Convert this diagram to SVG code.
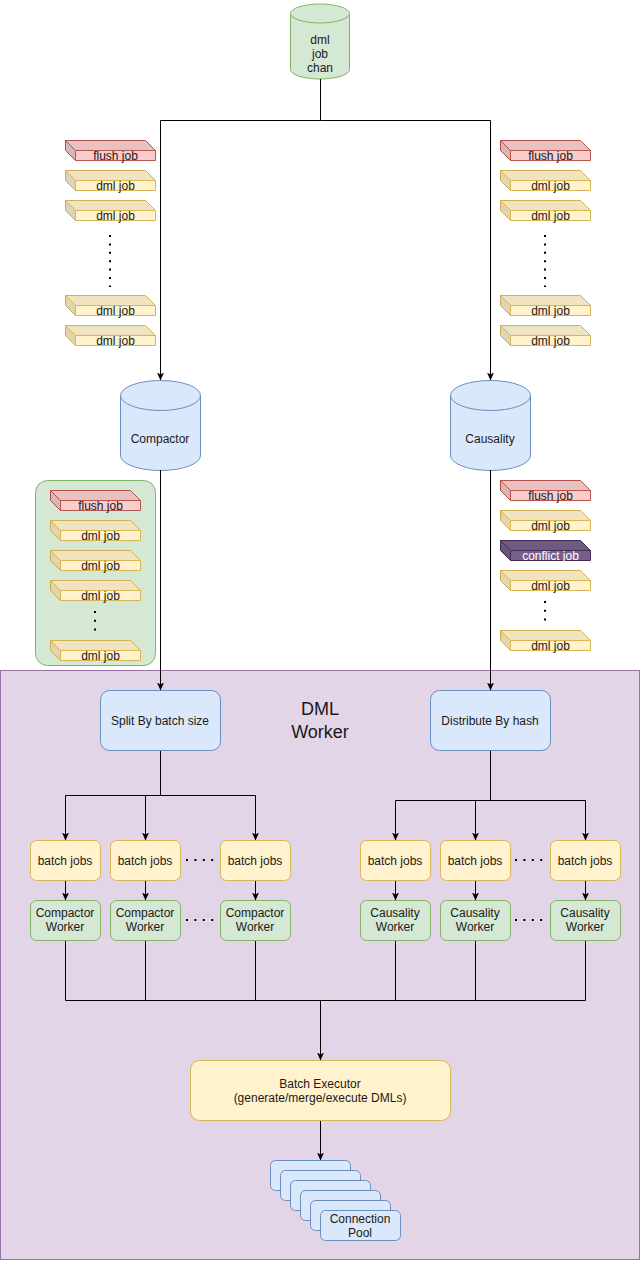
<svg xmlns="http://www.w3.org/2000/svg" xmlns:xlink="http://www.w3.org/1999/xlink" width="641" height="1261" viewBox="0 0 641 1261">
<style>
text{font-family:"Liberation Sans",Arial,sans-serif;font-size:12px;fill:#1a1a1a;text-anchor:middle}
.blue{fill:#dae8fc;stroke:#6c8ebf;stroke-width:1}
.yellow{fill:#fff2cc;stroke:#d6b656;stroke-width:1}
.green{fill:#d5e8d4;stroke:#82b366;stroke-width:1}
.red{fill:#f8cecc;stroke:#b85450;stroke-width:1}
.purple{fill:#76608a;stroke:#432d57;stroke-width:1}
.conn{fill:none;stroke:#000;stroke-width:1}
.arr{marker-end:url(#arrow)}
.dots{fill:none;stroke:#000;stroke-width:2;stroke-dasharray:2 6.4}
.wt{fill:#fff}
</style>
<defs>
<marker id="arrow" viewBox="0 0 8 8" refX="7.5" refY="4" markerWidth="8" markerHeight="8" markerUnits="userSpaceOnUse" orient="auto">
<path d="M0,0.5 L8,4 L0,7.5 L2,4 Z" fill="#000"/>
</marker>
<g id="cubeShade">
<path d="M0,0 L80,0 L90,10 L10,10 Z" fill="#000" fill-opacity="0.06"/>
<path d="M0,0 L10,10 L10,20 L0,10 Z" fill="#000" fill-opacity="0.12"/>
</g>
<path id="cubeOutline" d="M0,0 L80,0 L90,10 L90,20 L10,20 L0,10 Z"/>
<path id="cubeEdges" d="M0,0 L10,10 L90,10 M10,10 L10,20" fill="none"/>
<g id="cubeDml"><use xlink:href="#cubeOutline" class="yellow"/><use xlink:href="#cubeShade"/><use xlink:href="#cubeEdges" stroke="#d6b656"/></g>
<g id="cubeFlush"><use xlink:href="#cubeOutline" class="red"/><use xlink:href="#cubeShade"/><use xlink:href="#cubeEdges" stroke="#b85450"/></g>
<g id="cubeConflict"><use xlink:href="#cubeOutline" class="purple"/><use xlink:href="#cubeShade"/><use xlink:href="#cubeEdges" stroke="#432d57"/></g>
</defs>

<!-- DML Worker container -->
<g id="dml-worker">
<rect x="0.5" y="670.5" width="639" height="589" fill="#e1d5e7" stroke="#9673a6"/>
<text x="320" y="715" style="font-size:18px">DML</text>
<text x="320" y="738" style="font-size:18px">Worker</text>
</g>

<!-- green buffer container -->
<g id="compactor-buffer">
<rect x="35.5" y="480.5" width="120" height="185" rx="12" class="green"/>
</g>

<!-- top channel -->
<g id="dml-job-chan">
<path d="M290.5,13.5 A29.5,9.5 0 0 1 349.5,13.5 L349.5,69.5 A29.5,9.5 0 0 1 290.5,69.5 Z" class="green"/>
<path d="M290.5,13.5 A29.5,9.5 0 0 0 349.5,13.5" class="green" fill="none"/>
<text x="320" y="44">dml</text>
<text x="320" y="58">job</text>
<text x="320" y="72">chan</text>
</g>

<g id="compactor">
<path d="M120.5,395.5 A40,15 0 0 1 200.5,395.5 L200.5,455.5 A40,15 0 0 1 120.5,455.5 Z" class="blue"/>
<path d="M120.5,395.5 A40,15 0 0 0 200.5,395.5" class="blue" fill="none"/>
<text x="160" y="443">Compactor</text>
</g>

<g id="causality">
<path d="M450.5,395.5 A40,15 0 0 1 530.5,395.5 L530.5,455.5 A40,15 0 0 1 450.5,455.5 Z" class="blue"/>
<path d="M450.5,395.5 A40,15 0 0 0 530.5,395.5" class="blue" fill="none"/>
<text x="490" y="443">Causality</text>
</g>

<!-- left input jobs -->
<g id="left-jobs">
<g transform="translate(65.5,140.5)"><use xlink:href="#cubeFlush"/><text x="50" y="19">flush job</text></g>
<g transform="translate(65.5,170.5)"><use xlink:href="#cubeDml"/><text x="50" y="19">dml job</text></g>
<g transform="translate(65.5,200.5)"><use xlink:href="#cubeDml"/><text x="50" y="19">dml job</text></g>
<line x1="110" y1="235" x2="110" y2="287" class="dots"/>
<g transform="translate(65.5,295.5)"><use xlink:href="#cubeDml"/><text x="50" y="19">dml job</text></g>
<g transform="translate(65.5,325.5)"><use xlink:href="#cubeDml"/><text x="50" y="19">dml job</text></g>
</g>

<!-- right input jobs -->
<g id="right-jobs">
<g transform="translate(500.5,140.5)"><use xlink:href="#cubeFlush"/><text x="50" y="19">flush job</text></g>
<g transform="translate(500.5,170.5)"><use xlink:href="#cubeDml"/><text x="50" y="19">dml job</text></g>
<g transform="translate(500.5,200.5)"><use xlink:href="#cubeDml"/><text x="50" y="19">dml job</text></g>
<line x1="545" y1="235" x2="545" y2="287" class="dots"/>
<g transform="translate(500.5,295.5)"><use xlink:href="#cubeDml"/><text x="50" y="19">dml job</text></g>
<g transform="translate(500.5,325.5)"><use xlink:href="#cubeDml"/><text x="50" y="19">dml job</text></g>
</g>

<!-- compactor buffered jobs -->
<g id="compactor-jobs">
<g transform="translate(50.5,490.5)"><use xlink:href="#cubeFlush"/><text x="50" y="19">flush job</text></g>
<g transform="translate(50.5,520.5)"><use xlink:href="#cubeDml"/><text x="50" y="19">dml job</text></g>
<g transform="translate(50.5,550.5)"><use xlink:href="#cubeDml"/><text x="50" y="19">dml job</text></g>
<g transform="translate(50.5,580.5)"><use xlink:href="#cubeDml"/><text x="50" y="19">dml job</text></g>
<line x1="95" y1="611" x2="95" y2="631" class="dots" style="stroke-dasharray:2 6.7"/>
<g transform="translate(50.5,640.5)"><use xlink:href="#cubeDml"/><text x="50" y="19">dml job</text></g>
</g>

<!-- causality output jobs -->
<g id="causality-jobs">
<g transform="translate(500.5,480.5)"><use xlink:href="#cubeFlush"/><text x="50" y="19">flush job</text></g>
<g transform="translate(500.5,510.5)"><use xlink:href="#cubeDml"/><text x="50" y="19">dml job</text></g>
<g transform="translate(500.5,540.5)"><use xlink:href="#cubeConflict"/><text x="50" y="19" class="wt">conflict job</text></g>
<g transform="translate(500.5,570.5)"><use xlink:href="#cubeDml"/><text x="50" y="19">dml job</text></g>
<line x1="545" y1="601" x2="545" y2="621" class="dots" style="stroke-dasharray:2 6.7"/>
<g transform="translate(500.5,630.5)"><use xlink:href="#cubeDml"/><text x="50" y="19">dml job</text></g>
</g>

<!-- splitters -->
<g id="split-by-batch-size">
<rect x="100.5" y="690.5" width="120" height="60" rx="9" class="blue"/>
<text x="160" y="725">Split By batch size</text>
</g>
<g id="distribute-by-hash">
<rect x="430.5" y="690.5" width="120" height="60" rx="9" class="blue"/>
<text x="490" y="725">Distribute By hash</text>
</g>

<!-- batch jobs -->
<g id="batch-jobs-l1"><rect x="30.5" y="840.5" width="70" height="40" rx="6" class="yellow"/><text x="65" y="865">batch jobs</text></g>
<g id="batch-jobs-l2"><rect x="110.5" y="840.5" width="70" height="40" rx="6" class="yellow"/><text x="145" y="865">batch jobs</text></g>
<g id="batch-jobs-l3"><rect x="220.5" y="840.5" width="70" height="40" rx="6" class="yellow"/><text x="255" y="865">batch jobs</text></g>
<g id="batch-jobs-r1"><rect x="360.5" y="840.5" width="70" height="40" rx="6" class="yellow"/><text x="395" y="865">batch jobs</text></g>
<g id="batch-jobs-r2"><rect x="440.5" y="840.5" width="70" height="40" rx="6" class="yellow"/><text x="475" y="865">batch jobs</text></g>
<g id="batch-jobs-r3"><rect x="550.5" y="840.5" width="70" height="40" rx="6" class="yellow"/><text x="585" y="865">batch jobs</text></g>

<!-- workers -->
<g id="compactor-worker-1"><rect x="30.5" y="900.5" width="70" height="40" rx="6" class="green"/><text x="65" y="917">Compactor</text><text x="65" y="931">Worker</text></g>
<g id="compactor-worker-2"><rect x="110.5" y="900.5" width="70" height="40" rx="6" class="green"/><text x="145" y="917">Compactor</text><text x="145" y="931">Worker</text></g>
<g id="compactor-worker-3"><rect x="220.5" y="900.5" width="70" height="40" rx="6" class="green"/><text x="255" y="917">Compactor</text><text x="255" y="931">Worker</text></g>
<g id="causality-worker-1"><rect x="360.5" y="900.5" width="70" height="40" rx="6" class="green"/><text x="395" y="917">Causality</text><text x="395" y="931">Worker</text></g>
<g id="causality-worker-2"><rect x="440.5" y="900.5" width="70" height="40" rx="6" class="green"/><text x="475" y="917">Causality</text><text x="475" y="931">Worker</text></g>
<g id="causality-worker-3"><rect x="550.5" y="900.5" width="70" height="40" rx="6" class="green"/><text x="585" y="917">Causality</text><text x="585" y="931">Worker</text></g>

<!-- ellipsis dots -->
<g id="ellipses">
<line x1="186" y1="860" x2="216" y2="860" class="dots" style="stroke-dasharray:2 6.4"/>
<line x1="186" y1="920" x2="216" y2="920" class="dots" style="stroke-dasharray:2 6.4"/>
<line x1="515" y1="860" x2="545" y2="860" class="dots" style="stroke-dasharray:2 6.4"/>
<line x1="515" y1="920" x2="545" y2="920" class="dots" style="stroke-dasharray:2 6.4"/>
</g>

<!-- batch executor -->
<g id="batch-executor">
<rect x="190.5" y="1060.5" width="260" height="60" rx="9" class="yellow"/>
<text x="320" y="1088">Batch Executor</text>
<text x="320" y="1102">(generate/merge/execute DMLs)</text>
</g>

<!-- connection pool -->
<g id="connection-pool">
<rect x="270.5" y="1160.5" width="80" height="30" rx="5" class="blue"/>
<rect x="280.5" y="1170.5" width="80" height="30" rx="5" class="blue"/>
<rect x="290.5" y="1180.5" width="80" height="30" rx="5" class="blue"/>
<rect x="300.5" y="1190.5" width="80" height="30" rx="5" class="blue"/>
<rect x="310.5" y="1200.5" width="80" height="30" rx="5" class="blue"/>
<rect x="320.5" y="1210.5" width="80" height="30" rx="5" class="blue"/>
<text x="360" y="1223">Connection</text>
<text x="360" y="1237">Pool</text>
</g>

<!-- connectors -->
<g id="connectors">
<path d="M320.5,79 V120.5 H160.5 V380" class="conn arr"/>
<path d="M320.5,120.5 H490.5 V380" class="conn arr"/>
<path d="M160.5,470 V690" class="conn arr"/>
<path d="M490.5,470 V690" class="conn arr"/>
<path d="M160.5,751 V795.5" class="conn"/>
<path d="M65.5,840 V795.5 H255.5 V840" class="conn arr"/>
<path d="M65.5,795.5 V840" class="conn arr"/>
<path d="M145.5,795.5 V840" class="conn arr"/>
<path d="M490.5,751 V800.5" class="conn"/>
<path d="M395.5,800.5 H585.5 V840" class="conn arr"/>
<path d="M395.5,800.5 V840" class="conn arr"/>
<path d="M475.5,800.5 V840" class="conn arr"/>
<path d="M65.5,881 V900" class="conn arr"/>
<path d="M145.5,881 V900" class="conn arr"/>
<path d="M255.5,881 V900" class="conn arr"/>
<path d="M395.5,881 V900" class="conn arr"/>
<path d="M475.5,881 V900" class="conn arr"/>
<path d="M585.5,881 V900" class="conn arr"/>
<path d="M65.5,941 V1000.5 H585.5 V941" class="conn"/>
<path d="M145.5,941 V1000.5 M255.5,941 V1000.5 M395.5,941 V1000.5 M475.5,941 V1000.5" class="conn"/>
<path d="M320.5,1000.5 V1060" class="conn arr"/>
<path d="M320.5,1121 V1160" class="conn arr"/>
</g>
</svg>
